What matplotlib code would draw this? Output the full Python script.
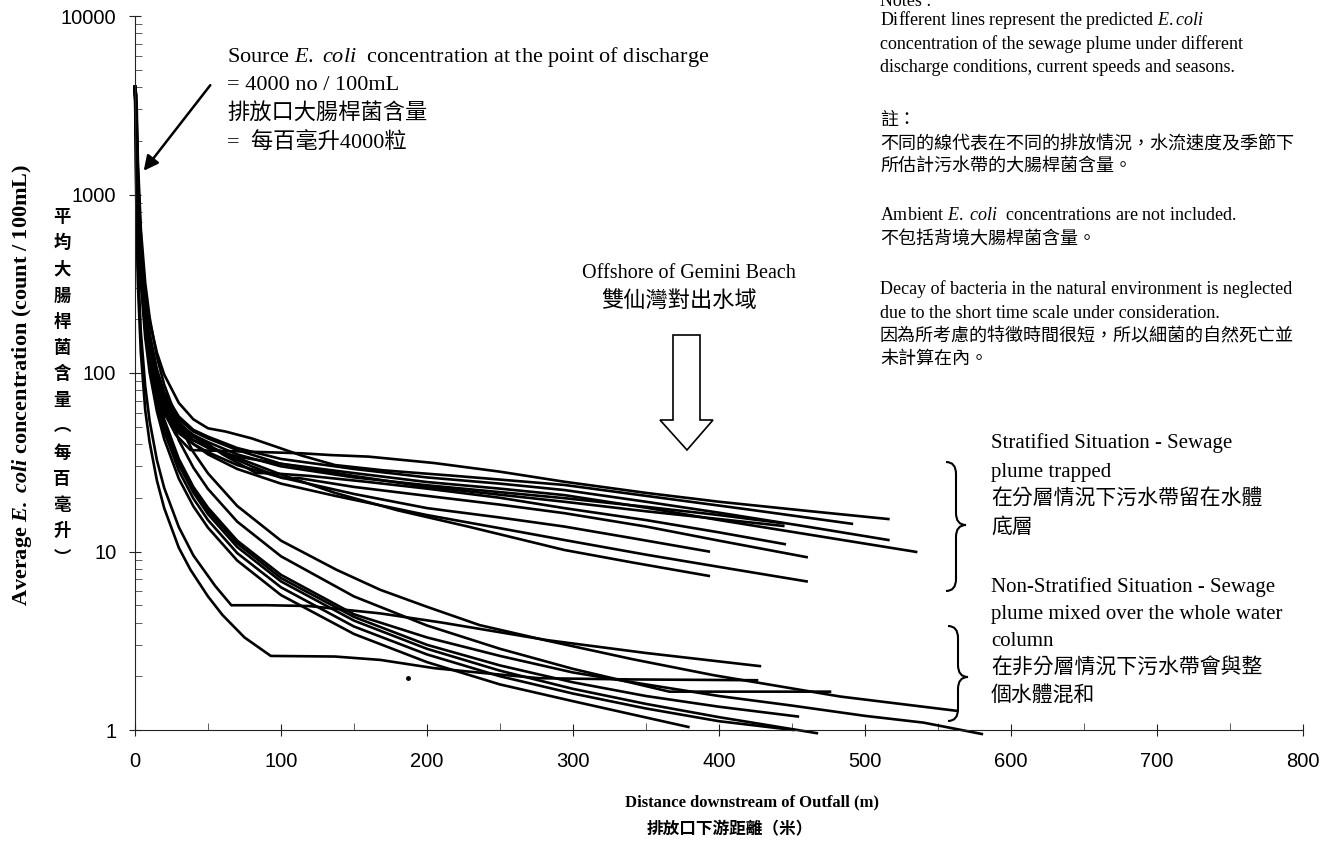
import matplotlib.pyplot as plt
import numpy as np
from matplotlib.path import Path
from matplotlib.patches import PathPatch, Polygon
from matplotlib.transforms import IdentityTransform
from matplotlib.ticker import LogLocator, NullFormatter, MultipleLocator

plt.rcParams['mathtext.fontset'] = 'custom'
plt.rcParams['mathtext.rm'] = 'Liberation Serif'
plt.rcParams['mathtext.it'] = 'Liberation Serif:italic'
plt.rcParams['mathtext.bf'] = 'Liberation Serif:bold'
plt.rcParams['mathtext.bfit'] = 'Liberation Serif:bold:italic'

SERIF = ['Liberation Serif', 'Noto Sans CJK TC']
CJK = ['Noto Sans CJK TC']

# stratified situation - plume trapped (distance m, E. coli count / 100mL)
s1_x = [0, 1, 2, 4, 7, 10, 15, 20, 28, 38, 80, 114, 134, 160, 205, 250, 294, 350, 400, 460, 516]
s1_y = [4000, 2000, 950, 420, 200, 135, 85, 60, 45, 37, 36.2, 35.5, 34.7, 34, 31.3, 28, 24.6, 21.3, 19, 16.9, 15.2]
s2_x = [0, 1, 2, 4, 7, 10, 15, 20, 30, 40, 50, 62, 80, 96, 114, 137, 170, 220, 294, 350, 420, 491]
s2_y = [4000, 2600, 1300, 560, 280, 195, 130, 98, 68, 55, 49, 47, 43, 38.8, 34.5, 30.5, 28.5, 26.5, 23.6, 20.5, 17.2, 14.3]
s3_x = [0, 1, 2, 4, 7, 10, 15, 20, 30, 40, 50, 70, 100, 150, 200, 250, 294, 350, 400, 444]
s3_y = [4000, 2200, 1050, 470, 225, 150, 95, 70, 52, 45, 41, 35, 30, 26, 23.5, 21.5, 19.9, 17.8, 16, 14.4]
s4_x = [0, 1, 2, 4, 7, 10, 15, 20, 30, 40, 50, 70, 100, 150, 200, 250, 294, 350, 400, 460, 516]
s4_y = [4000, 2400, 1150, 500, 245, 165, 105, 78, 57, 48, 44, 38, 33, 29, 26, 24, 22.1, 19, 16.5, 13.8, 11.6]
s5_x = [0, 1, 2, 4, 7, 10, 15, 20, 30, 40, 50, 70, 100, 150, 200, 250, 294, 350, 400, 460, 535]
s5_y = [4000, 2100, 1000, 440, 215, 145, 92, 68, 50, 42, 38, 34, 31, 27.5, 24.5, 22.5, 20.7, 17.6, 15, 12.5, 9.95]
s6_x = [0, 1, 2, 4, 7, 10, 15, 20, 30, 40, 50, 60, 70, 83, 92, 120, 160, 200, 250, 294, 350, 400, 445]
s6_y = [4000, 1900, 900, 400, 195, 130, 85, 64, 50, 44, 40, 35, 31.5, 27.5, 27.5, 26.5, 24.5, 22.5, 20, 17.5, 15, 12.8, 11]
s7_x = [0, 1, 2, 4, 7, 10, 15, 20, 30, 40, 50, 65, 80, 101, 112, 150, 200, 250, 294, 350, 400, 460]
s7_y = [4000, 2300, 1100, 480, 235, 155, 98, 72, 53, 44, 39, 34, 30, 25.8, 25.8, 23, 20.5, 18.3, 16.4, 13.8, 11.5, 9.3]
s8_x = [0, 1, 2, 4, 7, 10, 15, 20, 30, 40, 50, 70, 100, 150, 200, 250, 294, 340, 393]
s8_y = [4000, 1800, 850, 380, 185, 125, 80, 60, 46, 40, 36, 30.5, 26, 21, 17.5, 15.5, 13.8, 11.9, 10]
s9_x = [0, 1, 2, 4, 7, 10, 15, 20, 30, 40, 50, 70, 100, 137, 200, 250, 294, 350, 400, 460]
s9_y = [4000, 1950, 920, 410, 200, 132, 85, 63, 48, 40, 35, 29, 24, 20.5, 16, 13.5, 11.6, 9.6, 8.2, 6.8]
s10_x = [0, 1, 2, 4, 7, 10, 15, 20, 30, 40, 50, 68, 100, 137, 180, 228, 294, 340, 393]
s10_y = [4000, 1700, 800, 360, 175, 118, 78, 59, 47, 42, 39, 34, 27, 21.3, 17, 13.8, 10.2, 8.7, 7.3]
s11_x = [0, 1, 2, 4, 7, 10, 15, 20, 30, 40, 50, 70, 100, 150, 200, 250, 294, 350, 400, 444]
s11_y = [4000, 2250, 1080, 480, 232, 155, 100, 74, 55, 47, 43, 37, 31, 26.5, 23, 20.8, 19, 16.8, 15.2, 13.9]

# non-stratified situation - plume mixed over the water column
m1_x = [0, 1, 2, 4, 7, 10, 15, 20, 30, 38, 50, 60, 75, 93, 137, 168, 205, 240, 277, 340, 426]
m1_y = [4000, 750, 310, 130, 62, 41, 25, 17.5, 10.5, 7.9, 5.6, 4.4, 3.3, 2.6, 2.58, 2.47, 2.22, 2.08, 1.95, 1.92, 1.9]
m2_x = [0, 1, 2, 4, 7, 10, 15, 20, 30, 40, 47, 55, 66, 90, 119, 168, 210, 248, 282, 350, 428]
m2_y = [4000, 960, 404, 170, 84.5, 54, 32.5, 22.7, 13.7, 9.5, 7.9, 6.4, 5.0, 5.0, 4.95, 4.5, 4.0, 3.55, 3.19, 2.7, 2.28]
m3_x = [0, 1, 2, 4, 7, 10, 15, 20, 30, 40, 50, 70, 100, 138, 168, 200, 236, 282, 340, 396, 483, 563]
m3_y = [4000, 3600, 1530, 640, 320, 205, 123, 86, 52, 36, 27.4, 18, 11.5, 7.9, 6.1, 4.9, 3.87, 3.17, 2.5, 2.03, 1.54, 1.28]
m4_x = [0, 1, 2, 4, 7, 10, 15, 20, 30, 40, 50, 70, 100, 150, 200, 250, 300, 366, 420, 476]
m4_y = [4000, 2970, 1250, 525, 261, 167, 100, 70, 42, 29.5, 22.4, 14.7, 9.4, 5.6, 3.85, 2.85, 2.2, 1.64, 1.64, 1.64]
m5_x = [0, 1, 2, 4, 7, 10, 15, 20, 30, 40, 50, 70, 100, 150, 200, 250, 300, 350, 400, 450, 500, 540, 580]
m5_y = [4000, 2340, 985, 414, 206, 132, 79, 55, 33, 23, 17.6, 11.5, 7.4, 4.45, 3.3, 2.6, 2.1, 1.8, 1.55, 1.37, 1.2, 1.1, 0.95]
m6_x = [0, 1, 2, 4, 7, 10, 15, 20, 30, 40, 50, 70, 100, 150, 200, 250, 300, 350, 400, 454]
m6_y = [4000, 2240, 945, 397, 197, 126, 76, 53, 32, 22.3, 16.9, 11.1, 7.1, 4.3, 3.0, 2.3, 1.85, 1.55, 1.35, 1.19]
m7_x = [0, 1, 2, 4, 7, 10, 15, 20, 30, 40, 50, 70, 100, 150, 200, 250, 300, 350, 400, 467]
m7_y = [4000, 2150, 905, 380, 189, 121, 73, 51, 30.6, 21.4, 16.2, 10.6, 6.8, 4.1, 2.85, 2.15, 1.7, 1.4, 1.18, 0.96]
m8_x = [0, 1, 2, 4, 7, 10, 15, 20, 30, 40, 50, 70, 100, 150, 200, 250, 300, 379]
m8_y = [4000, 1800, 760, 320, 158, 101, 61, 42.6, 25.6, 17.9, 13.6, 8.9, 5.7, 3.45, 2.4, 1.8, 1.45, 1.04]
m9_x = [0, 1, 2, 4, 7, 10, 15, 20, 30, 40, 50, 70, 100, 150, 200, 250, 300, 350, 400, 451]
m9_y = [4000, 1990, 840, 352, 175, 112, 67, 47, 28.4, 19.8, 15, 9.8, 6.3, 3.8, 2.65, 2.0, 1.6, 1.32, 1.12, 1.0]

stratified = [(s1_x, s1_y), (s2_x, s2_y), (s3_x, s3_y), (s4_x, s4_y), (s5_x, s5_y), (s6_x, s6_y),
              (s7_x, s7_y), (s8_x, s8_y), (s9_x, s9_y), (s10_x, s10_y), (s11_x, s11_y)]
mixed = [(m1_x, m1_y), (m2_x, m2_y), (m3_x, m3_y), (m4_x, m4_y), (m5_x, m5_y), (m6_x, m6_y),
         (m7_x, m7_y), (m8_x, m8_y), (m9_x, m9_y)]

speck_x = [187]
speck_y = [1.96]

x_ticks = [0, 100, 200, 300, 400, 500, 600, 700, 800]
y_ticks = [1, 10, 100, 1000, 10000]
y_tick_labels = ['1', '10', '100', '1000', '10000']

W, H = 1337, 843
fig = plt.figure(figsize=(W / 100, H / 100), dpi=100)
ax = fig.add_axes([135 / W, 1 - 730 / H, (1303 - 135) / W, (730 - 16) / H])

for xs, ys in stratified + mixed:
    ax.plot(xs, ys, color='black', lw=1.9, clip_on=False, solid_joinstyle='round')
ax.plot(speck_x, speck_y, 'o', color='black', ms=2.5)

ax.set_yscale('log')
ax.set_xlim(0, 800)
ax.set_ylim(1, 10000)
ax.set_yticks(y_ticks)
ax.set_yticklabels(y_tick_labels)
ax.yaxis.set_minor_locator(LogLocator(base=10, subs=np.arange(2, 10)))
ax.yaxis.set_minor_formatter(NullFormatter())
ax.set_xticks(x_ticks)
ax.xaxis.set_minor_locator(MultipleLocator(50))
for sp in ['top', 'right']:
    ax.spines[sp].set_visible(False)
for sp in ['left', 'bottom']:
    ax.spines[sp].set_linewidth(0.8)
    ax.spines[sp].set_color('#222222')
ax.tick_params(axis='both', which='major', direction='inout', length=9, width=0.8,
               labelsize=14.5, colors='#222222')
ax.tick_params(axis='both', which='minor', direction='in', length=5, width=0.6, colors='#444444')
ax.tick_params(axis='y', which='major', pad=9)
ax.tick_params(axis='x', which='major', pad=11)
for lab in ax.get_xticklabels() + ax.get_yticklabels():
    lab.set_fontfamily('Liberation Sans')
    lab.set_color('black')


def ftext(px, py, s, size, family=SERIF, **kw):
    fig.text(px / W, 1 - py / H, s, fontsize=size, family=family, va='center', **kw)


# axis labels
ftext(22, 385, r'Average $\mathbfit{E.\ coli}$ concentration (count / 100mL)', 16,
      weight='bold', rotation=90, ha='center')
vert_label = ['平', '均', '大', '腸', '桿', '菌', '含', '量', '︵', '每', '百', '毫', '升', '︶']
for i, ch in enumerate(vert_label):
    ftext(62, 217 + 26.2 * i, ch, 12.5, family=CJK, weight='bold', ha='center')
ftext(752, 802, 'Distance downstream of Outfall (m)', 12, weight='bold', ha='center')
ftext(730, 829, '排放口下游距離（米）', 12, family=CJK, weight='bold', ha='center')

# source annotation
ftext(227, 57, r'Source $\it{E.\ coli}$  concentration at the point of discharge', 16, ha='left')
ftext(227, 86, '= 4000 no / 100mL', 16, ha='left')
ftext(227, 114, '排放口大腸桿菌含量', 16, ha='left')
ftext(227, 143, '=  每百毫升4000粒', 16, ha='left')
ax.annotate('', xy=(142, H - 173), xycoords='figure pixels',
            xytext=(212, H - 83), textcoords='figure pixels',
            arrowprops=dict(arrowstyle='-|>', color='black', lw=1.8, mutation_scale=22))

# offshore of Gemini Beach
ftext(689, 273, 'Offshore of Gemini Beach', 14.5, ha='center')
ftext(679, 302, '雙仙灣對出水域', 16, ha='center')
arrow_px = [(673, 335), (700, 335), (700, 420), (713, 420), (687, 450), (660, 420), (673, 420)]
fig.add_artist(Polygon([(px, H - py) for px, py in arrow_px], closed=True,
                       fc='white', ec='black', lw=1.2, transform=IdentityTransform()))

# notes
notes = [
    (1, 'Notes :', 13),
    (20, r'Different lines represent the predicted $\it{E.coli}$', 13),
    (44, 'concentration of the sewage plume under different', 13),
    (68, 'discharge conditions, current speeds and seasons.', 13),
    (120, '註：', 13),
    (145, '不同的線代表在不同的排放情況，水流速度及季節下', 13),
    (167, '所估計污水帶的大腸桿菌含量。', 13),
    (216, r'Ambient $\it{E.\ coli}$  concentrations are not included.', 13),
    (240, '不包括背境大腸桿菌含量。', 13),
    (289, 'Decay of bacteria in the natural environment is neglected', 13),
    (313, 'due to the short time scale under consideration.', 13),
    (337, '因為所考慮的特徵時間很短，所以細菌的自然死亡並', 13),
    (359, '未計算在內。', 13),
]
for py, s, size in notes:
    ftext(880, py, s, size, ha='left')

# stratified / non-stratified braces and text
side = [
    (443, 'Stratified Situation - Sewage'),
    (472, 'plume trapped'),
    (500, '在分層情況下污水帶留在水體'),
    (528, '底層'),
    (587, 'Non-Stratified Situation - Sewage'),
    (614, 'plume mixed over the whole water'),
    (642, 'column'),
    (669, '在非分層情況下污水帶會與整'),
    (696, '個水體混和'),
]
for py, s in side:
    ftext(991, py, s, 15, ha='left')


def brace(xl, xt, ytop, ytip, ybot, r=12):
    xm = (xl + xt) / 2
    top, tip, bot = H - ytop, H - ytip, H - ybot
    verts = [(xl, top), (xm, top), (xm, top - r), (xm, tip + r), (xm, tip), (xt, tip),
             (xm, tip), (xm, tip - r), (xm, bot + r), (xm, bot), (xl, bot)]
    codes = [Path.MOVETO, Path.CURVE3, Path.CURVE3, Path.LINETO, Path.CURVE3, Path.CURVE3,
             Path.CURVE3, Path.CURVE3, Path.LINETO, Path.CURVE3, Path.CURVE3]
    fig.add_artist(PathPatch(Path(verts, codes), fc='none', ec='black', lw=1.5,
                             transform=IdentityTransform()))


brace(946, 966, 462, 525, 591)
brace(948, 968, 626, 677, 721)

fig.savefig('out.png', dpi=100)
